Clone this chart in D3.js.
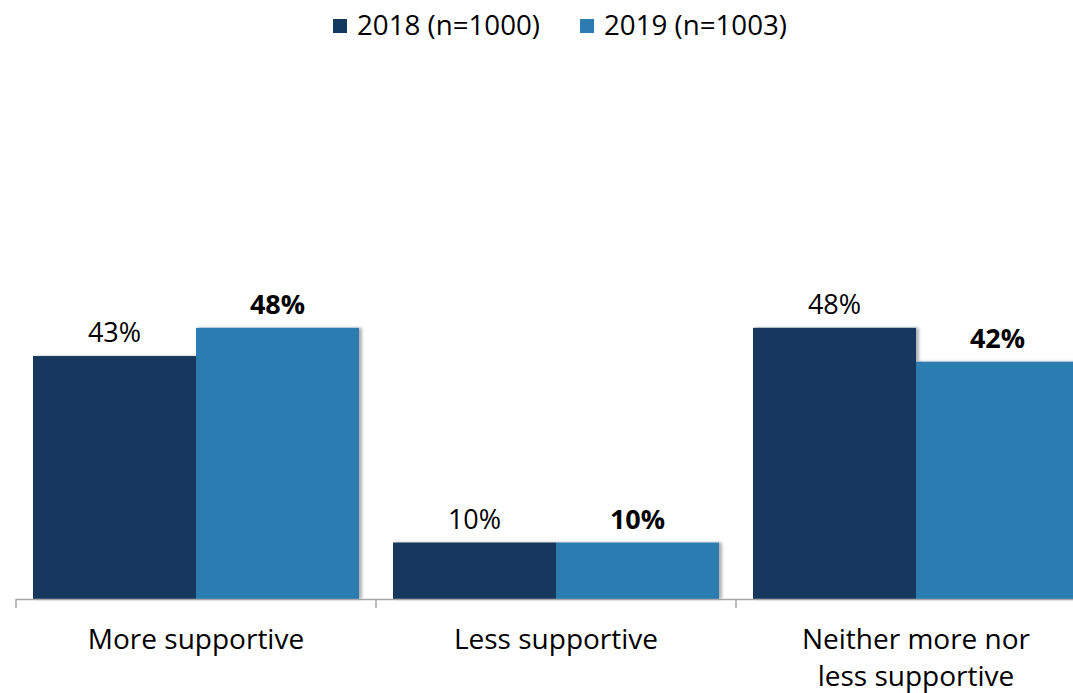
<!DOCTYPE html>
<html>
<head>
<meta charset="utf-8">
<script src="https://cdn.jsdelivr.net/npm/d3@7"></script>
<style>
  html, body { margin: 0; padding: 0; background: #fff; }
  svg { display: block; font-family: "Open Sans", Lato, sans-serif; }
</style>
</head>
<body>
<svg id="chart" width="1073" height="693"></svg>
<script>
// Survey responses by year
const categories = ["More supportive", "Less supportive", "Neither more nor less supportive"];
const categoryLines = [["More supportive"], ["Less supportive"], ["Neither more nor", "less supportive"]];
const seriesNames = ["2018 (n=1000)", "2019 (n=1003)"];
const values2018 = [43, 10, 48];
const values2019 = [48, 10, 42];
const seriesColors = ["#13395f", "#2c7bb1"];

const svg = d3.select("#chart");
const baseY = 599;

const x0 = d3.scaleBand()
  .domain(categories)
  .range([16, 1096])
  .paddingInner(34 / 360)
  .paddingOuter(17 / 360);

const x1 = d3.scaleBand()
  .domain(seriesNames)
  .range([0, x0.bandwidth()])
  .padding(0);

const y = d3.scaleLinear().domain([0, 60]).range([baseY, 260]);

// soft shadow on the right edge of each bar
const defs = svg.append("defs");
const f = defs.append("filter").attr("id", "shadow")
  .attr("x", "-5%").attr("y", "-5%").attr("width", "115%").attr("height", "110%");
f.append("feDropShadow").attr("dx", 3).attr("dy", 0).attr("stdDeviation", 1.5)
  .attr("flood-color", "#000").attr("flood-opacity", 0.3);

const rows = categories.map((c, i) => ({
  cat: c,
  vals: [
    { s: seriesNames[0], v: values2018[i], idx: 0 },
    { s: seriesNames[1], v: values2019[i], idx: 1 }
  ]
}));

const groups = svg.append("g").selectAll("g")
  .data(rows).join("g")
  .attr("transform", d => `translate(${x0(d.cat)},0)`);

groups.selectAll("rect")
  .data(d => d.vals).join("rect")
  .attr("x", d => x1(d.s))
  .attr("y", d => y(d.v))
  .attr("width", x1.bandwidth())
  .attr("height", d => y(0) - y(d.v))
  .attr("fill", d => seriesColors[d.idx])
  .attr("filter", "url(#shadow)");

groups.selectAll("text.val")
  .data(d => d.vals).join("text")
  .attr("class", "val")
  .attr("x", d => x1(d.s) + x1.bandwidth() / 2)
  .attr("y", d => y(d.v) - 14)
  .attr("text-anchor", "middle")
  .attr("font-size", 27)
  .attr("font-weight", d => d.idx === 1 ? "bold" : "normal")
  .attr("fill", "#000")
  .text(d => d.v + "%");

// category axis with tick marks at band boundaries
const axisG = svg.append("g");
axisG.append("line")
  .attr("x1", 16).attr("x2", 1096)
  .attr("y1", baseY + 0.5).attr("y2", baseY + 0.5)
  .attr("stroke", "#a6a6a6").attr("stroke-width", 1.5);
const tickXs = [0, 1, 2, 3].map(i => x0.range()[0] + i * x0.step());
axisG.selectAll("line.tick")
  .data(tickXs).join("line")
  .attr("class", "tick")
  .attr("x1", d => d).attr("x2", d => d)
  .attr("y1", baseY).attr("y2", baseY + 9)
  .attr("stroke", "#a6a6a6").attr("stroke-width", 1.5);

const catText = axisG.selectAll("text.cat")
  .data(categories).join("text")
  .attr("class", "cat")
  .attr("x", d => x0(d) + x0.bandwidth() / 2)
  .attr("y", 649)
  .attr("text-anchor", "middle")
  .attr("font-size", 28)
  .attr("fill", "#000");
catText.each(function(d, i) {
  d3.select(this).selectAll("tspan")
    .data(categoryLines[i]).join("tspan")
    .attr("x", x0(d) + x0.bandwidth() / 2)
    .attr("dy", (t, j) => j === 0 ? 0 : 37)
    .text(t => t);
});

// legend
const legendItems = [
  { name: seriesNames[0], color: seriesColors[0], x: 333 },
  { name: seriesNames[1], color: seriesColors[1], x: 580 }
];
const lg = svg.append("g").selectAll("g")
  .data(legendItems).join("g")
  .attr("transform", d => `translate(${d.x},19)`);
lg.append("rect").attr("width", 14).attr("height", 14).attr("fill", d => d.color);
lg.append("text")
  .attr("x", 24).attr("y", 16)
  .attr("font-size", 27.7)
  .attr("fill", "#000")
  .text(d => d.name);
</script>
</body>
</html>
